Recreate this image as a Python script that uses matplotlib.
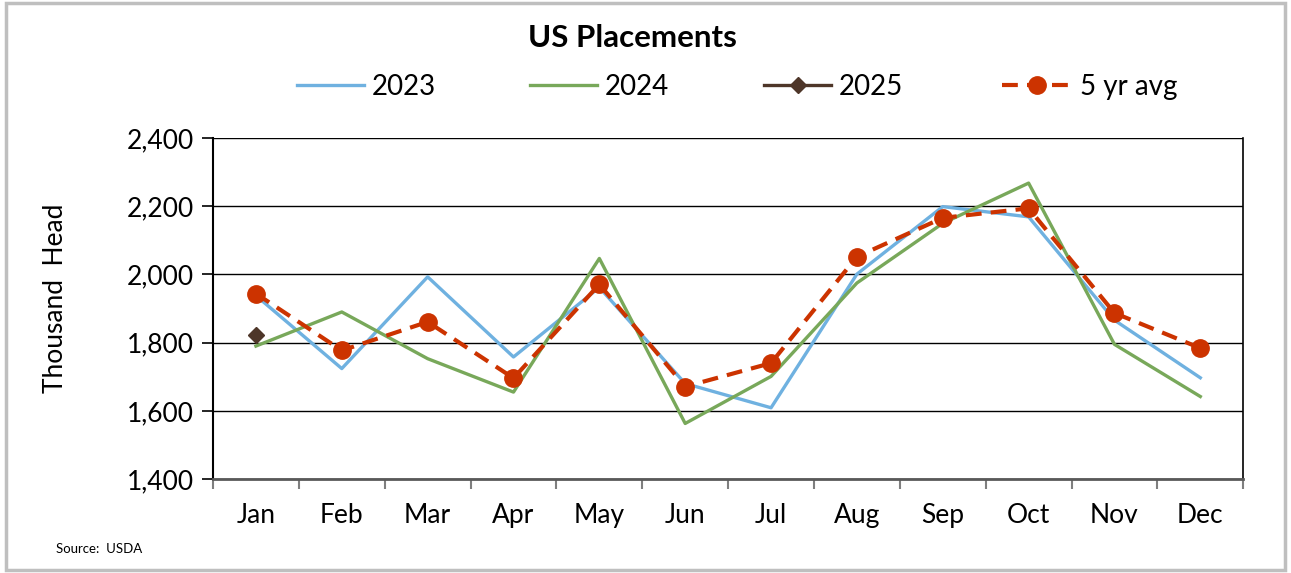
import matplotlib
matplotlib.use("Agg")
import matplotlib.pyplot as plt
from matplotlib.patches import Rectangle
from matplotlib.ticker import FuncFormatter, MultipleLocator, FixedLocator
import numpy as np

plt.rcParams['font.family'] = ['Lato', 'DejaVu Sans']

months = ["Jan", "Feb", "Mar", "Apr", "May", "Jun",
          "Jul", "Aug", "Sep", "Oct", "Nov", "Dec"]
y2023 = [1938, 1724, 1993, 1758, 1962, 1680, 1609, 2001, 2199, 2169, 1866, 1697]
y2024 = [1790, 1890, 1753, 1655, 2047, 1563, 1701, 1975, 2150, 2268, 1795, 1642]
y2025 = [1822]
avg5 = [1944, 1777, 1861, 1696, 1971, 1671, 1740, 2052, 2166, 2194, 1887, 1784]

x = np.arange(len(months))

fig = plt.figure(figsize=(12.91, 5.73), dpi=100)
ax = fig.add_axes([0.165, 0.164, 0.798, 0.595])

h23, = ax.plot(x, y2023, color="#6fb1e0", lw=2.4, label="2023", zorder=3)
h24, = ax.plot(x, y2024, color="#78a85a", lw=2.4, label="2024", zorder=3)
h25, = ax.plot(x[:len(y2025)], y2025, color="#4e3629", lw=2.4, marker="D",
               markersize=8, label="2025", zorder=4)
havg, = ax.plot(x, avg5, color="#cc3300", lw=3.0, ls=(0, (3.8, 2.2)), marker="o",
                markersize=12.5, label="5 yr avg", zorder=5)

ax.set_xlim(-0.5, 11.5)
ax.set_ylim(1400, 2400)
ax.yaxis.set_major_locator(MultipleLocator(200))
ax.yaxis.set_major_formatter(FuncFormatter(lambda v, p: f"{int(v):,}"))
ax.yaxis.grid(True, color="black", lw=1.0)
ax.set_axisbelow(True)

ax.set_xticks(x)
ax.set_xticklabels(months)
ax.xaxis.set_minor_locator(FixedLocator(np.arange(-0.5, 12, 1)))
ax.tick_params(axis="x", which="major", length=0, pad=17, labelsize=19)
ax.tick_params(axis="x", which="minor", length=7, width=1.5, color="#7f7f7f")
ax.tick_params(axis="y", length=8, width=1.2, labelsize=19, pad=6)

ax.spines["top"].set_visible(False)
ax.spines["left"].set_color("black")
ax.spines["left"].set_linewidth(1.5)
ax.spines["right"].set_color("black")
ax.spines["right"].set_linewidth(1.2)
ax.spines["bottom"].set_color("#595959")
ax.spines["bottom"].set_linewidth(2)

ax.set_ylabel("Thousand  Head", fontsize=19, va="center", ha="center")
ax.yaxis.set_label_coords(-0.153, 0.53)

fig.text(0.49, 0.934, "US Placements", ha="center", va="center",
         fontsize=22.5, fontweight="bold")

# legend: first three entries evenly spaced, the average set apart
leg1 = fig.legend(handles=[h23, h24, h25], loc="center left",
                  bbox_to_anchor=(0.230, 0.848), ncol=3, frameon=False,
                  fontsize=20, handlelength=2.4, columnspacing=3.42,
                  handletextpad=0.28, borderpad=0, borderaxespad=0)
fig.legend(handles=[havg], loc="center left", bbox_to_anchor=(0.776, 0.848),
           frameon=False, fontsize=20, handlelength=2.55, handletextpad=0.25,
           borderpad=0, borderaxespad=0)

fig.text(0.043, 0.042, "Source:  USDA", fontsize=9.5, va="center")

fig.patches.append(Rectangle((0.005, 0.006), 0.99, 0.988, transform=fig.transFigure,
                             fill=False, edgecolor="#bfbfbf", lw=2.5))

fig.savefig("out.png", dpi=100)
